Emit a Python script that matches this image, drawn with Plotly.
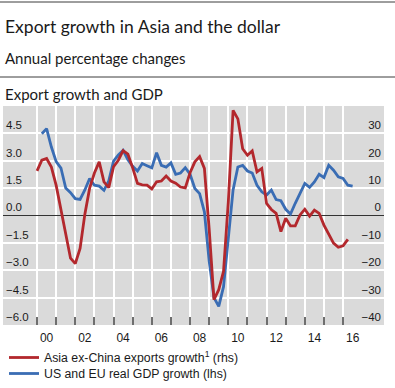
import pandas as pd
import plotly.graph_objects as go

# ---- text ----
title = "Export growth in Asia and the dollar"
subtitle = "Annual percentage changes"
panel_title = "Export growth and GDP"
red_name = "Asia ex-China exports growth<sup>1</sup> (rhs)"
blue_name = "US and EU real GDP growth (lhs)"

# ---- data (quarterly, annual % changes) ----
red_start = "2000Q1"
red_values = [16.3, 20.2, 20.8, 17.7, 11.0, 2.0, -8.0, -15.6, -17.6, -12.0,
              0.5, 10.0, 15.5, 19.6, 12.3, 10.2, 17.8, 20.2, 23.7, 22.4,
              17.4, 11.7, 11.2, 11.1, 9.7, 12.3, 12.6, 14.4, 12.6, 11.8,
              10.4, 10.1, 15.6, 19.6, 21.5, 17.2, -5.0, -30.7, -27.1, -20.4,
              5.0, 38.4, 35.3, 24.4, 22.0, 23.6, 15.9, 17.2, 4.4, 2.2,
              0.8, -5.9, -1.0, -3.8, -3.8, 0.2, 2.3, -0.2, 2.0, 0.8,
              -3.5, -7.1, -10.1, -11.6, -11.1, -8.7]

blue_start = "2000Q2"
blue_values = [4.48, 4.76, 3.75, 2.95, 2.60, 1.50, 1.25, 0.92, 0.88, 1.40,
               2.03, 1.66, 1.61, 1.38, 1.90, 2.98, 3.32, 3.57, 3.05, 2.70,
               2.44, 2.85, 2.73, 2.61, 3.44, 2.75, 2.65, 2.88, 2.26, 2.33,
               2.62, 2.26, 1.48, 1.20, 0.20, -2.50, -4.50, -4.98, -3.90, -1.20,
               1.40, 2.66, 2.75, 2.44, 2.33, 1.66, 1.30, 1.12, 1.39, 0.87,
               0.81, 0.34, 0.08, 0.67, 1.21, 1.76, 1.54, 1.84, 2.26, 2.08,
               2.75, 2.48, 2.12, 2.03, 1.66, 1.61]

year_ticks = list(range(2000, 2017))
label_years = list(range(2000, 2017, 2))
label_text = [f"{y % 100:02d}" for y in label_years]
left_ticks = [-6.0, -4.5, -3.0, -1.5, 0.0, 1.5, 3.0, 4.5]
right_ticks = [-40, -30, -20, -10, 0, 10, 20, 30]


def quarter_x(start, n):
    p = pd.period_range(start, periods=n, freq="Q")
    return [pp.year + (pp.quarter - 1) / 4 for pp in p]


RED = "#b3282d"
BLUE = "#3a6db4"
BG = "#dadada"
TXT = "#1a1a1a"
SANS = "Liberation Sans, Arial, sans-serif"
TICKFONT = dict(family=SANS, size=11.5, color=TXT)
HEADFONT = "Lato, sans-serif"

fig = go.Figure()
fig.add_trace(go.Scatter(x=quarter_x(red_start, len(red_values)), y=red_values,
                         name=red_name, mode="lines", yaxis="y2", legend="legend",
                         line=dict(color=RED, width=2.8)))
fig.add_trace(go.Scatter(x=quarter_x(blue_start, len(blue_values)), y=blue_values,
                         name=blue_name, mode="lines", yaxis="y", legend="legend2",
                         line=dict(color=BLUE, width=2.8)))

W, H = 395, 388
L, R, T, B = 3, 11, 106, 63
ph = H - T - B


def py(p):  # pixel y -> paper y
    return (H - B - p) / ph


def px(p):  # pixel x -> paper x
    return (p - L) / (W - L - R)


legend_style = dict(xref="paper", yref="paper", xanchor="left", yanchor="top",
                    orientation="v", font=dict(family=SANS, size=12.3, color=TXT),
                    bgcolor="rgba(0,0,0,0)", borderwidth=0)

fig.update_layout(
    width=W, height=H,
    margin=dict(l=L, r=R, t=T, b=B, pad=0, autoexpand=False),
    paper_bgcolor="white", plot_bgcolor=BG,
    showlegend=True,
    legend=dict(x=px(4), y=py(343), **legend_style),
    legend2=dict(x=px(4), y=py(359), **legend_style),
    xaxis=dict(range=[1998.22, 2018.14], tickmode="array", tickvals=[y + 0.5 for y in label_years],
               ticktext=label_text, ticks="", showgrid=False, zeroline=False, showline=False,
               tickangle=0, ticklabelstandoff=4,
               tickfont=dict(family=SANS, size=12, color=TXT),
               minor=dict(tickmode="array", tickvals=year_ticks, ticks="inside", ticklen=8,
                          tickwidth=1.5, tickcolor="#6e6e6e", showgrid=True,
                          gridcolor="white", gridwidth=1.5)),
    yaxis=dict(range=[-6, 6], tickmode="array", tickvals=left_ticks, tickformat=".1f",
               ticklabelposition="inside top", ticks="", showgrid=True, gridcolor="white",
               gridwidth=1.5, zeroline=True, zerolinecolor="#333333", zerolinewidth=1,
               showline=False, tickfont=TICKFONT),
    yaxis2=dict(range=[-40, 40], overlaying="y", side="right", tickmode="array",
                tickvals=right_ticks, ticklabelposition="inside top", ticks="",
                showgrid=False, zeroline=False, showline=False, tickfont=TICKFONT),
)

fig.add_annotation(text=title, xref="paper", yref="paper", x=px(3), y=py(26),
                   xanchor="left", yanchor="middle", showarrow=False,
                   font=dict(family=HEADFONT, size=17.5, color=TXT))
fig.add_annotation(text=subtitle, xref="paper", yref="paper", x=px(3), y=py(58),
                   xanchor="left", yanchor="middle", showarrow=False,
                   font=dict(family=HEADFONT, size=15, color=TXT))
fig.add_annotation(text=panel_title, xref="paper", yref="paper", x=px(3), y=py(94),
                   xanchor="left", yanchor="middle", showarrow=False,
                   font=dict(family=HEADFONT, size=15, color=TXT))

for ry in (2, 77):
    fig.add_shape(type="line", xref="paper", yref="paper", x0=px(0), x1=px(W),
                  y0=py(ry), y1=py(ry), line=dict(color="#3c3c3c", width=1))

fig.write_html("out.html", config={"displayModeBar": False},
               post_script="document.body.style.margin='0px';")
